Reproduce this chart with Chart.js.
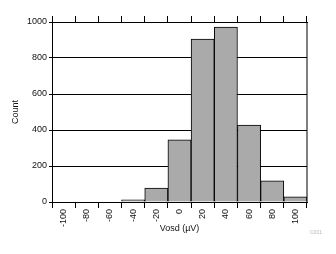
<!DOCTYPE html>
<html>
<head>
<meta charset="utf-8">
<script src="https://cdn.jsdelivr.net/npm/chart.js@4/dist/chart.umd.min.js"></script>
<style>
  html, body { margin: 0; padding: 0; background: #fff; }
  #wrap { width: 336px; height: 254px; position: relative; }
</style>
</head>
<body>
<div id="wrap"><canvas id="c" width="336" height="254"></canvas></div>
<script>
const categories = ['-100', '-80', '-60', '-40', '-20', '0', '20', '40', '60', '80', '100'];
const counts = [0, 0, 0, 12, 78, 346, 905, 972, 428, 117, 29];
const yTicks = [0, 200, 400, 600, 800, 1000];
const xTitle = 'Vosd (µV)';
const yTitle = 'Count';
const footnote = 'C001';

const FONT = 'Liberation Sans, Arial, sans-serif';

const framePlugin = {
  id: 'frame',
  afterDatasetsDraw(chart) {
    const { ctx, chartArea: a } = chart;
    ctx.save();
    ctx.strokeStyle = '#000';
    ctx.lineWidth = 1;
    ctx.strokeRect(Math.round(a.left) + 0.5, Math.round(a.top) + 0.5,
                   Math.round(a.right - a.left) - 0.5, Math.round(a.bottom - a.top));
    ctx.restore();
  },
  afterDraw(chart) {
    const { ctx } = chart;
    ctx.save();
    ctx.fillStyle = '#b8b8b8';
    ctx.font = '5px ' + FONT;
    ctx.textAlign = 'left';
    ctx.textBaseline = 'middle';
    ctx.fillText(footnote, 310, 233);
    ctx.restore();
  }
};

new Chart(document.getElementById('c'), {
  type: 'bar',
  data: {
    labels: categories,
    datasets: [{
      data: counts,
      backgroundColor: '#aaaaaa',
      borderColor: '#000',
      borderWidth: 1,
      barPercentage: 1,
      categoryPercentage: 1
    }]
  },
  options: {
    responsive: false,
    animation: false,
    devicePixelRatio: 1,
    layout: { padding: { left: 0, right: 29, top: 0, bottom: 0 } },
    plugins: { legend: { display: false }, tooltip: { enabled: false } },
    scales: {
      x: {
        type: 'category',
        position: 'bottom',
        offset: true,
        grid: { offset: true, drawOnChartArea: false, drawTicks: true, tickLength: 6, color: '#000', lineWidth: 1 },
        border: { display: true, color: '#000' },
        ticks: { color: '#111', font: { family: FONT, size: 9 }, minRotation: 90, maxRotation: 90, padding: 1, autoSkip: false },
        title: { display: true, text: xTitle, color: '#111', font: { family: FONT, size: 9 }, padding: { top: 0, bottom: 20 } },
        afterFit(s) { s.height = 52; }
      },
      x2: {
        type: 'category',
        position: 'top',
        labels: categories,
        offset: true,
        grid: { offset: true, drawOnChartArea: false, drawTicks: true, tickLength: 6, color: '#000', lineWidth: 1 },
        border: { display: true, color: '#000' },
        ticks: { display: false },
        afterFit(s) { s.height = 22; }
      },
      y: {
        min: 0, max: 1000,
        afterBuildTicks(s) { s.ticks = yTicks.map(v => ({ value: v })); },
        grid: { color: '#000', lineWidth: 1, tickLength: 3 },
        border: { display: true, color: '#000' },
        ticks: { color: '#111', font: { family: FONT, size: 9 }, padding: 2, callback: v => String(v) },
        title: { display: true, text: yTitle, color: '#111', font: { family: FONT, size: 9 }, padding: { top: 10, bottom: 0 } },
        afterFit(s) { s.width = 52; }
      }
    }
  },
  plugins: [framePlugin]
});
</script>
</body>
</html>
